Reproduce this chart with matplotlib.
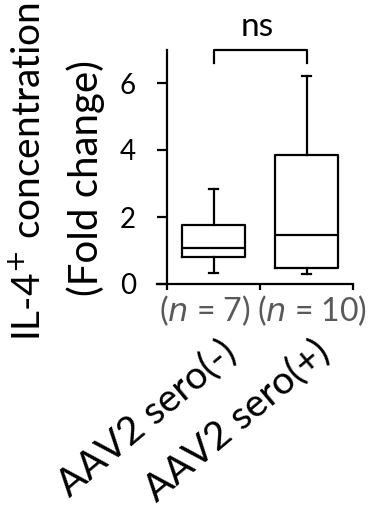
import numpy as np
import matplotlib
matplotlib.use("Agg")
import matplotlib.pyplot as plt

# Box statistics
groups = ["AAV2 sero(-)", "AAV2 sero(+)"]
n_values = [7, 10]
whislo = [0.33, 0.30]
q1 = [0.81, 0.48]
med = [1.07, 1.46]
q3 = [1.76, 3.85]
whishi = [2.85, 6.20]
yticks = [0, 2, 4, 6]
sig_label = "ns"

plt.rcParams['font.family'] = ['Lato', 'DejaVu Sans']
LW = 1.6

fig = plt.figure(figsize=(3.73, 5.16), dpi=100)
ax = fig.add_axes([157 / 373, 1 - 284 / 516, 196 / 373, 234.5 / 516])

stats = []
for i in range(len(groups)):
    stats.append(dict(whislo=whislo[i], q1=q1[i], med=med[i], q3=q3[i],
                      whishi=whishi[i], fliers=[]))
positions = [0.5, 1.5]
ax.bxp(stats, positions=positions, widths=0.68, showfliers=False,
       boxprops=dict(color='black', linewidth=LW),
       medianprops=dict(color='black', linewidth=LW),
       whiskerprops=dict(color='black', linewidth=LW),
       capprops=dict(color='black', linewidth=LW),
       capwidths=0.09, manage_ticks=False)

ax.set_xlim(-0.108, 2.0)
ax.set_ylim(0, 7)
ax.spines['left'].set_position(('data', 0))
ax.spines['left'].set_bounds(0, 7)
for s in ['top', 'right']:
    ax.spines[s].set_visible(False)
for s in ['left', 'bottom']:
    ax.spines[s].set_linewidth(LW)

ax.set_yticks(yticks)
ax.set_yticklabels([str(v) for v in yticks], fontsize=20)
ax.set_xticks([0, 1, 2])
ax.set_xticklabels([])
ax.tick_params(axis='x', width=LW, length=4.5, color='black')
ax.tick_params(axis='y', width=LW, length=7.5, color='black', pad=15)

# n labels (grey, italic n)
n_shift = [-0.1, 0.06]
for p, n, d in zip(positions, n_values, n_shift):
    ax.text(p + d, -0.8, r"($\mathit{n}$ = %d)" % n, ha='center', va='center',
            fontsize=23, color='#595959', clip_on=False)

# category labels rotated
for p, g in zip(positions, groups):
    ax.text(p + 0.27, -2.15, g, rotation=40, ha='right', va='baseline',
            rotation_mode='anchor', fontsize=28, clip_on=False)

# significance bracket
ax.plot([positions[0], positions[0], positions[1], positions[1]],
        [6.6, 7.0, 7.0, 6.6], color='black', linewidth=LW, clip_on=False)
ax.text(0.97, 7.68, sig_label, ha='center', va='center', fontsize=24)

# two-line y label
fig.text(30 / 373, 1 - 172 / 516, "IL-4$^{+}$ concentration", rotation=90,
         ha='center', va='center', fontsize=28)
fig.text(86 / 373, 1 - 178 / 516, "(Fold change)", rotation=90,
         ha='center', va='center', fontsize=29)

fig.savefig("out.png", dpi=100)
